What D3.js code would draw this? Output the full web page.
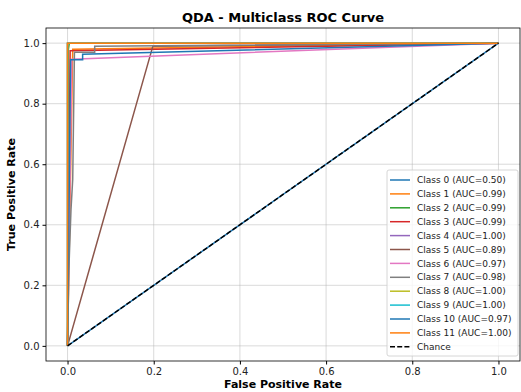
<!DOCTYPE html>
<html>
<head>
<meta charset="utf-8">
<script src="https://cdn.jsdelivr.net/npm/d3@7"></script>
<style>
  body { margin: 0; background: #fff; }
  text { font-family: "DejaVu Sans", sans-serif; }
</style>
</head>
<body>
<div id="chart"></div>
<script>
// ── Datos ──────────────────────────────────────────────────────────────
const classNames = ["Class 0", "Class 1", "Class 2", "Class 3", "Class 4", "Class 5",
  "Class 6", "Class 7", "Class 8", "Class 9", "Class 10", "Class 11"];
const aucValues = [0.50, 0.99, 0.99, 0.99, 1.00, 0.89, 0.97, 0.98, 1.00, 1.00, 0.97, 1.00];
const rocCurves = [
  [[0, 0], [1, 1]],
  [[0, 0], [0.012, 0.98], [1, 1]],
  [[0, 0], [0.002, 0.98], [0.004, 1], [1, 1]],
  [[0, 0], [0.006, 0.975], [1, 1]],
  [[0, 0], [0, 1], [1, 1]],
  [[0, 0], [0.198, 0.99], [1, 1]],
  [[0, 0], [0.01, 0.947], [1, 1]],
  [[0, 0], [0.003, 0.25], [0.008, 0.45], [0.012, 0.55], [0.016, 0.97], [0.063, 0.97], [0.063, 0.99], [1, 1]],
  [[0, 0], [0, 1], [1, 1]],
  [[0, 0], [0, 1], [1, 1]],
  [[0, 0], [0.007, 0.945], [0.035, 0.945], [0.035, 0.963], [1, 1]],
  [[0, 0], [0, 1], [1, 1]]
];
const chanceLine = [[0, 0], [1, 1]];
const tickValues = [0, 0.2, 0.4, 0.6, 0.8, 1.0];
const colors = ["#1f77b4", "#ff7f0e", "#2ca02c", "#d62728", "#9467bd", "#8c564b",
  "#e377c2", "#7f7f7f", "#bcbd22", "#17becf", "#1f77b4", "#ff7f0e"];

// ── Lienzo ─────────────────────────────────────────────────────────────
const width = 521, height = 392;
const margin = { left: 46, right: 1, top: 28, bottom: 31 };
const x0 = margin.left, x1 = width - margin.right;
const y0 = height - margin.bottom, y1 = margin.top;

const svg = d3.select("#chart").append("svg")
  .attr("width", width).attr("height", height);

const x = d3.scaleLinear().domain([-0.05, 1.05]).range([x0, x1]);
const y = d3.scaleLinear().domain([-0.05, 1.05]).range([y0, y1]);

// ── Rejilla ────────────────────────────────────────────────────────────
const grid = svg.append("g");
grid.selectAll(".gx").data(tickValues).join("line")
  .attr("x1", d => x(d)).attr("x2", d => x(d))
  .attr("y1", y0).attr("y2", y1)
  .attr("stroke", "#b0b0b0").attr("stroke-opacity", 0.6).attr("stroke-width", 0.8);
grid.selectAll(".gy").data(tickValues).join("line")
  .attr("y1", d => y(d)).attr("y2", d => y(d))
  .attr("x1", x0).attr("x2", x1)
  .attr("stroke", "#b0b0b0").attr("stroke-opacity", 0.6).attr("stroke-width", 0.8);

// ── Curvas ─────────────────────────────────────────────────────────────
const line = d3.line().x(d => x(d[0])).y(d => y(d[1]));
const gLines = svg.append("g");
rocCurves.forEach((c, i) => {
  gLines.append("path").attr("d", line(c))
    .attr("fill", "none").attr("stroke", colors[i]).attr("stroke-width", 1.5);
});
gLines.append("path").attr("d", line(chanceLine))
  .attr("fill", "none").attr("stroke", "#000").attr("stroke-width", 1.5)
  .attr("stroke-dasharray", "5,2.2");

// ── Ejes ───────────────────────────────────────────────────────────────
const fmt = d3.format(".1f");
svg.append("g").attr("transform", `translate(0,${y0})`)
  .call(d3.axisBottom(x).tickValues(tickValues).tickFormat(fmt).tickSize(3.5).tickPadding(3))
  .call(g => g.select(".domain").remove())
  .call(g => g.selectAll("text").attr("font-size", 10).attr("fill", "#222").style("font-family", "DejaVu Sans"));
svg.append("g").attr("transform", `translate(${x0},0)`)
  .call(d3.axisLeft(y).tickValues(tickValues).tickFormat(fmt).tickSize(3.5).tickPadding(3))
  .call(g => g.select(".domain").remove())
  .call(g => g.selectAll("text").attr("font-size", 10).attr("fill", "#222").style("font-family", "DejaVu Sans"));

svg.append("rect").attr("x", x0).attr("y", y1)
  .attr("width", x1 - x0).attr("height", y0 - y1)
  .attr("fill", "none").attr("stroke", "#000").attr("stroke-width", 0.8);

// ── Textos ─────────────────────────────────────────────────────────────
svg.append("text").attr("x", (x0 + x1) / 2).attr("y", 22)
  .attr("text-anchor", "middle").attr("font-size", 13).attr("font-weight", "bold")
  .text("QDA - Multiclass ROC Curve");
svg.append("text").attr("x", (x0 + x1) / 2).attr("y", 388)
  .attr("text-anchor", "middle").attr("font-size", 11).attr("font-weight", "bold")
  .text("False Positive Rate");
svg.append("text").attr("transform", `translate(15,${(y0 + y1) / 2}) rotate(-90)`)
  .attr("text-anchor", "middle").attr("font-size", 11).attr("font-weight", "bold")
  .text("True Positive Rate");

// ── Leyenda ────────────────────────────────────────────────────────────
const legendItems = classNames.map((n, i) => ({ label: `${n} (AUC=${aucValues[i].toFixed(2)})`, color: colors[i], dash: null }));
legendItems.push({ label: "Chance", color: "#000", dash: "5,2.2" });

const lg = svg.append("g");
lg.append("rect").attr("x", 387).attr("y", 170).attr("width", 131).attr("height", 186)
  .attr("rx", 2).attr("fill", "#fff").attr("fill-opacity", 0.8)
  .attr("stroke", "#ccc").attr("stroke-width", 0.8);
legendItems.forEach((d, i) => {
  const yy = 180 + i * 13.9;
  lg.append("line").attr("x1", 390).attr("x2", 410).attr("y1", yy).attr("y2", yy)
    .attr("stroke", d.color).attr("stroke-width", 1.5)
    .attr("stroke-dasharray", d.dash);
  lg.append("text").attr("x", 417).attr("y", yy).attr("dy", "0.35em")
    .attr("font-size", 9).attr("fill", "#222").text(d.label);
});
</script>
</body>
</html>
